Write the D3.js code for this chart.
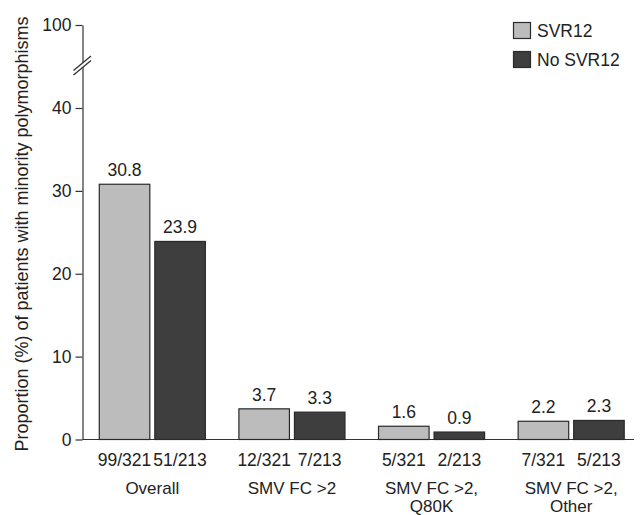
<!DOCTYPE html>
<html>
<head>
<meta charset="utf-8">
<script src="https://cdn.jsdelivr.net/npm/d3@7"></script>
<style>
  html, body { margin: 0; padding: 0; background: #fff; }
  svg text { font-family: "Liberation Sans", Arial, Helvetica, sans-serif; fill: #222; }
</style>
</head>
<body>
<svg id="chart" width="642" height="515"></svg>
<script>
// Minority polymorphism proportions by SVR12 outcome
const categories = ["Overall", "SMV FC >2", "SMV FC >2, Q80K", "SMV FC >2, Other"];
const categoryLines = [["Overall"], ["SMV FC >2"], ["SMV FC >2,", "Q80K"], ["SMV FC >2,", "Other"]];
const series = ["SVR12", "No SVR12"];
const svrValues = [30.8, 3.7, 1.6, 2.2];
const noSvrValues = [23.9, 3.3, 0.9, 2.3];
const svrCounts = ["99/321", "12/321", "5/321", "7/321"];
const noSvrCounts = ["51/213", "7/213", "2/213", "5/213"];
const yTicks = [0, 10, 20, 30, 40, 100];
const colors = ["#bcbcbc", "#3e3e3e"];

const svg = d3.select("#chart");
const axisX = 82.5, baseY = 439.5;
const fs = 17.5;

// broken y scale: 0–40 linear, then a jump to 100
const y = d3.scaleLinear().domain([0, 40, 100]).range([baseY, 108, 25]);

const x0 = d3.scaleBand().domain(categories).range([axisX, 641]).padding(0);
const x1 = d3.scaleBand().domain(series).range([0, x0.bandwidth()])
  .paddingInner(0.09).paddingOuter(0.302);

const rows = categories.map((c, i) => ({
  cat: c,
  lines: categoryLines[i],
  bars: [
    { s: series[0], v: svrValues[i], n: svrCounts[i] },
    { s: series[1], v: noSvrValues[i], n: noSvrCounts[i] }
  ]
}));

// y axis
const yAxis = d3.axisLeft(y).tickValues(yTicks).tickSize(7).tickSizeOuter(0).tickPadding(4);
const gy = svg.append("g").attr("transform", `translate(${axisX},0)`).call(yAxis);
gy.select(".domain").attr("stroke", "#333").attr("stroke-width", 1.2);
gy.selectAll(".tick line").attr("stroke", "#333").attr("stroke-width", 1.2);
gy.selectAll(".tick text").attr("font-size", fs).attr("fill", "#222")
  .attr("font-family", "Liberation Sans, Arial, sans-serif");

// axis break marks
const brk = svg.append("g");
brk.append("path")
  .attr("d", "M73.5,70.5 L91,56 L91,60.5 L73.5,75 Z")
  .attr("fill", "#fff");
[[73.5, 70.5, 91, 56], [73.5, 75, 91, 60.5]].forEach(l => {
  brk.append("line")
    .attr("x1", l[0]).attr("y1", l[1]).attr("x2", l[2]).attr("y2", l[3])
    .attr("stroke", "#333").attr("stroke-width", 1.3);
});

// x baseline
svg.append("line")
  .attr("x1", axisX).attr("x2", 634)
  .attr("y1", baseY).attr("y2", baseY)
  .attr("stroke", "#333").attr("stroke-width", 1.2);

// bars
const groups = svg.append("g").selectAll("g").data(rows).join("g")
  .attr("transform", d => `translate(${x0(d.cat)},0)`);

groups.selectAll("rect").data(d => d.bars).join("rect")
  .attr("x", d => x1(d.s))
  .attr("width", x1.bandwidth())
  .attr("y", d => y(d.v))
  .attr("height", d => baseY - y(d.v))
  .attr("fill", (d, i) => colors[i])
  .attr("stroke", "#2a2a2a")
  .attr("stroke-width", 1.2);

// value labels
groups.selectAll("text.val").data(d => d.bars).join("text")
  .attr("class", "val")
  .attr("x", d => x1(d.s) + x1.bandwidth() / 2)
  .attr("y", d => y(d.v) - 8)
  .attr("text-anchor", "middle")
  .attr("font-size", fs)
  .text(d => d.v.toFixed(1));

// n/N labels under bars
groups.selectAll("text.cnt").data(d => d.bars).join("text")
  .attr("class", "cnt")
  .attr("x", d => x1(d.s) + x1.bandwidth() / 2)
  .attr("y", 466)
  .attr("text-anchor", "middle")
  .attr("font-size", fs)
  .text(d => d.n);

// category labels
groups.each(function(d) {
  const g = d3.select(this);
  d.lines.forEach((t, j) => {
    g.append("text")
      .attr("x", x0.bandwidth() / 2)
      .attr("y", 493.5 + j * 18)
      .attr("text-anchor", "middle")
      .attr("font-size", 17)
      .text(t);
  });
});

// y title
svg.append("text")
  .attr("transform", "translate(28,234) rotate(-90)")
  .attr("text-anchor", "middle")
  .attr("font-size", 18)
  .text("Proportion (%) of patients with minority polymorphisms");

// legend
const legend = svg.append("g");
series.forEach((s, i) => {
  legend.append("rect")
    .attr("x", 513.5).attr("y", 22.5 + i * 29)
    .attr("width", 17).attr("height", 16)
    .attr("fill", colors[i]).attr("stroke", "#2a2a2a").attr("stroke-width", 1.2);
  legend.append("text")
    .attr("x", 537).attr("y", 37 + i * 29)
    .attr("font-size", fs)
    .text(s);
});
</script>
</body>
</html>
